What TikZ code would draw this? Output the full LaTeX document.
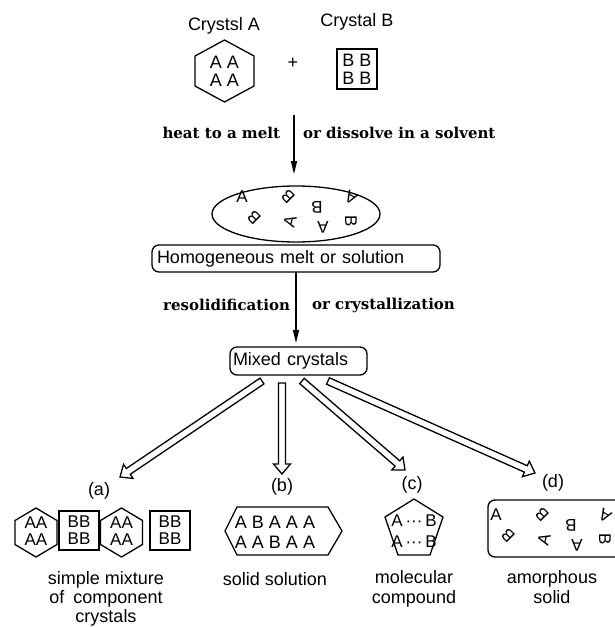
\documentclass[tikz,border=0pt]{standalone}
\usepackage{fontspec}
\setmainfont{Liberation Sans}
\newfontfamily\steplabel{DejaVu Serif}
\usetikzlibrary{arrows.meta,calc,shapes.geometric}

\tikzset{
  every node/.style={inner sep=0pt, outer sep=0pt},
  sans/.style={font=\fontsize{18}{18}\selectfont},
  small/.style={font=\fontsize{17}{17}\selectfont},
  steptext/.style={font=\steplabel\bfseries\fontsize{15}{15}\selectfont},
  outline/.style={draw=black, line width=1.3pt, line join=round},
  rbox/.style={draw, line width=1.3pt, rounded corners=7pt},
  flow/.style={line width=1.3pt, -{Triangle[length=13pt,width=6pt]}},
  hollow/.style={draw, line width=1.3pt, line join=miter},
  % randomly oriented A and B molecules
  pics/jumble/.style={code={
    \node[small] (-a1) at (-54,-17) {A};
    \node[small, rotate=135] (-b1) at (-8,-17) {B};
    \node[small, rotate=180] (-b2) at (21,-7) {B};
    \node[small, rotate=150] (-a2) at (55,-16) {A};
    \node[small, rotate=135] (-b3) at (-42,4) {B};
    \node[small, rotate=75] (-a3) at (-6,8) {A};
    \node[small, rotate=180] (-a4) at (27,13) {A};
    \node[small, rotate=-90] (-b4) at (55,7) {B};
  }},
}

% open double-lined arrow from #1 to #2
\newcommand\hollowarrow[2]{%
  \path ($(#2)!10pt!(#1)$) coordinate (hb);
  \draw[hollow] ($(#1)!3.5pt!90:(#2)$) -- ($(hb)!3.5pt!90:(#2)$)
    -- ($(hb)!8.5pt!90:(#2)$) -- (#2) -- ($(hb)!8.5pt!-90:(#2)$)
    -- ($(hb)!3.5pt!-90:(#2)$) -- ($(#1)!3.5pt!-90:(#2)$) -- cycle;
}

\begin{document}
\begin{tikzpicture}[x=1pt,y=-1pt]
\useasboundingbox (0,0) rectangle (615,627);

% ---- starting crystals
\node[sans] (labA) at (224,26) {Crystsl A};
\node[sans] (labB) at (357,22) {Crystal B};
\node[sans, align=center] (cA) at (224.5,71) {A A\\A A};
\draw[outline, shift={(cA.center)}]
  (0,-31) -- (29.5,-15) -- (29.5,15) -- (0,31) -- (-29.5,15) -- (-29.5,-15) -- cycle;
\node[sans] (plus) at (293,63) {+};
\node[sans, align=center, draw, line width=1.3pt, minimum width=40pt, minimum height=40pt] (cB) at (357,69) {B B\\B B};

% ---- melting / dissolving
\coordinate (m1) at (294,115);
\coordinate (m1tip) at (294,174);
\draw[flow] (m1) -- (m1tip);
\node[steptext, anchor=east] (heat) at (280,133) {heat to a melt};
\node[steptext, anchor=west] (diss) at (303,133) {or dissolve in a solvent};

\node[ellipse, draw, line width=1.3pt, minimum width=168pt, minimum height=56pt] (melt) at (296,214) {};
\pic at (melt.center) {jumble};

\node[rbox, sans, text width=278pt, inner xsep=5pt, minimum height=27pt, align=left] (homog) at (296,258.5) {Homogeneous melt or solution};

% ---- solidifying
\coordinate (m2tip) at (296,343);
\draw[flow] (homog.south) -- (m2tip);
\node[steptext, anchor=east] (resol) at (290,305) {resolidification};
\node[steptext, anchor=west] (cryst) at (312,305) {or crystallization};

\node[rbox, sans, text width=131pt, inner xsep=3pt, minimum height=28pt, align=left] (mixed) at (298.5,361) {Mixed crystals};

% ---- four outcomes
\coordinate (sa) at (262,381);  \coordinate (ta) at (120,477);
\coordinate (sb) at (282,383);  \coordinate (tb) at (282,474);
\coordinate (sc) at (302,381);  \coordinate (tc) at (405,470);
\coordinate (sd) at (328,381);  \coordinate (td) at (535,473);
\hollowarrow{sa}{ta}
\hollowarrow{sb}{tb}
\hollowarrow{sc}{tc}
\hollowarrow{sd}{td}

\node[sans] (la) at (99,491) {(a)};
\node[sans] (lb) at (282,487) {(b)};
\node[sans] (lc) at (412,485) {(c)};
\node[sans] (ld) at (553,483) {(d)};

% (a) simple mixture
\node[small, align=center] (ha1) at (36,531.5) {AA\\AA};
\draw[outline, shift={(36,532.5)}]
  (0,-24.5) -- (21,-12) -- (21,12) -- (0,24.5) -- (-21,12) -- (-21,-12) -- cycle;
\node[small, align=center, draw, line width=1.3pt, minimum width=40pt, minimum height=39pt] (sb1) at (79,530.5) {BB\\BB};
\node[small, align=center] (ha2) at (121.5,531.5) {AA\\AA};
\draw[outline, shift={(121.5,532.5)}]
  (0,-24.5) -- (21,-12) -- (21,12) -- (0,24.5) -- (-21,12) -- (-21,-12) -- cycle;
\node[small, align=center, draw, line width=1.3pt, minimum width=40pt, minimum height=39pt] (sb2) at (170,530.5) {BB\\BB};
\node[sans, align=center, font=\fontsize{18}{19}\selectfont] (ta1) at (106,599) {simple mixture\\of\hspace{0.5em}component\\crystals};

% (b) solid solution
\node[sans, align=center, font=\fontsize{18}{20}\selectfont] (ss) at (275,532) {A B A A A\\A A B A A};
\draw[outline] (225,531) -- (237,507) -- (328,507) -- (342,531) -- (328,555) -- (237,555) -- cycle;
\node[sans] (tb1) at (275,579) {solid solution};

% (c) molecular compound
\node[small, align=center, font=\fontsize{17}{21}\selectfont] (mc) at (414,531.5) {A\,···\,B\\A\,···\,B};
\draw[outline] (414,499) -- (443,517) -- (430,555) -- (398,555) -- (385,517) -- cycle;
\node[sans, align=center, font=\fontsize{18}{20}\selectfont] (tc1) at (414,589) {molecular\\compound};

% (d) amorphous solid
\begin{scope}
\clip (0,0) rectangle (615,627);
\node[rbox, minimum width=150pt, minimum height=57pt, anchor=north west] (amorph) at (488,500) {};
\pic at (550,532) {jumble};
\end{scope}
\node[sans, align=center, font=\fontsize{18}{20}\selectfont] (td1) at (552,587) {amorphous\\solid};
\end{tikzpicture}
\end{document}
